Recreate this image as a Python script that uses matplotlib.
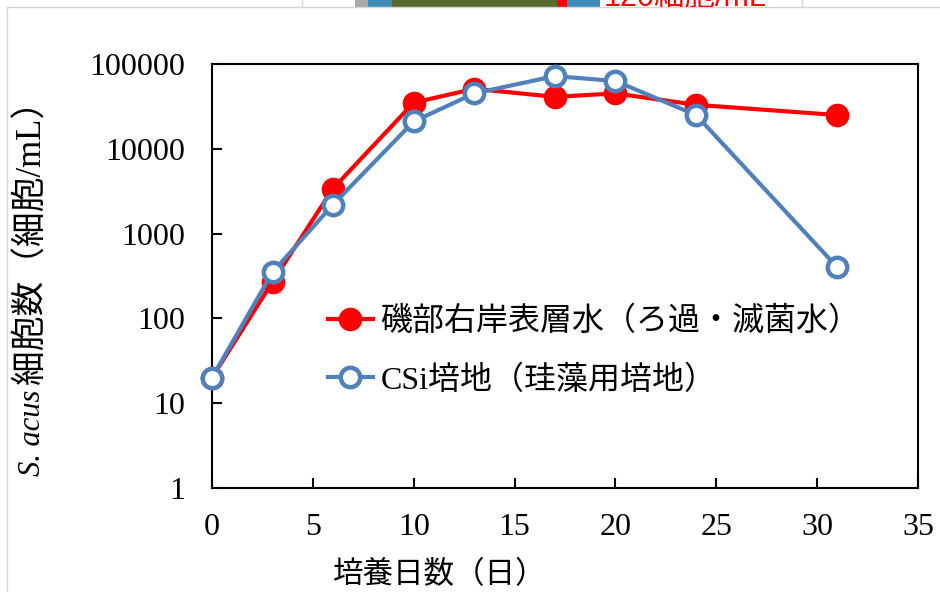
import matplotlib
matplotlib.use("Agg")
import matplotlib.pyplot as plt
from matplotlib.font_manager import FontProperties
from matplotlib.lines import Line2D
from matplotlib.patches import Rectangle
from matplotlib.ticker import NullLocator
from matplotlib.transforms import Bbox, TransformedBbox

plt.rcParams["font.family"] = ["Liberation Serif", "Noto Sans CJK JP"]

# culture day and cell counts (cells/mL)
days = [0, 3, 6, 10, 13, 17, 20, 24, 31]
river_water = [20, 270, 3400, 35000, 51000, 41000, 45000, 33000, 25000]
csi_medium = [20, 350, 2200, 21000, 45000, 72000, 63000, 25000, 400]

river_label = "磯部右岸表層水（ろ過・滅菌水）"
csi_label = "CSi培地（珪藻用培地）"

x_ticks = [0, 5, 10, 15, 20, 25, 30, 35]
y_ticks = [1, 10, 100, 1000, 10000, 100000]
y_tick_labels = ["1", "10", "100", "1000", "10000", "100000"]

W, H = 940, 592


def fx(px):
    return px / W


def fy(py):
    return 1 - py / H


fig = plt.figure(figsize=(W / 100, H / 100), dpi=100)

# page frame and the strip of the photo above the chart
frame = "#d4d4d4"
fig.add_artist(Line2D([fx(7), fx(7)], [fy(7), 0], color=frame, lw=1))
fig.add_artist(Line2D([fx(7), 1], [fy(7), fy(7)], color=frame, lw=1))
for px in (302, 802):
    fig.add_artist(Line2D([fx(px), fx(px)], [fy(7), 1], color=frame, lw=1))
for x0, x1, c in [(355, 368, "#a9a9a9"), (368, 392, "#3f8ab4"),
                  (392, 557, "#566b2c"), (557, 567, "#ff0000"),
                  (567, 600, "#3f8ab4")]:
    fig.add_artist(Rectangle((fx(x0), fy(7)), fx(x1 - x0), 7 / H,
                             color=c, lw=0))
photo_txt = fig.text(fx(604), fy(6), "120細胞/mL", color="#ff0000",
                     fontsize=22, family=["Liberation Sans", "Noto Sans CJK JP"],
                     va="baseline")
photo_txt.set_clip_box(TransformedBbox(Bbox([[fx(600), fy(7)], [fx(800), 1]]),
                                       fig.transFigure))
photo_txt.set_clip_on(True)

ax = fig.add_axes([fx(212), fy(488), fx(918 - 212), (488 - 64) / H])

ax.plot(days, river_water, color="#ff0000", lw=3, marker="o", ms=16,
        label=river_label, zorder=3, clip_on=False)
ax.plot(days, csi_medium, color="#4f81bd", lw=3, marker="o", ms=14,
        mfc="white", mec="#4f81bd", mew=3.2, label=csi_label, zorder=4,
        clip_on=False)

ax.set_yscale("log")
ax.set_xlim(0, 35)
ax.set_ylim(1, 100000)
ax.set_xticks(x_ticks)
ax.set_yticks(y_ticks, labels=y_tick_labels)
ax.yaxis.set_minor_locator(NullLocator())

for s in ax.spines.values():
    s.set_linewidth(1.5)
    s.set_color("black")
ax.tick_params(direction="in", length=7, width=1.5, labelsize=23)
ax.tick_params(axis="y", pad=19)
ax.tick_params(axis="x", pad=18)

ax.legend(loc="center left", bbox_to_anchor=(0.164, 0.323), frameon=False,
          prop=FontProperties(family=["Liberation Serif", "Noto Sans CJK JP"],
                              size=23),
          handlelength=1.4, handletextpad=0.25, labelspacing=0.88,
          borderpad=0, borderaxespad=0)

fig.text(fx(440), fy(576), "培養日数（日）", ha="center", va="center",
         fontsize=22)

# y label: italic species name followed by the unit text
species = fig.text(fx(33), fy(476), "S. acus", rotation=90, style="italic",
                   fontsize=22, ha="center", va="bottom")
fig.canvas.draw()
bb = species.get_window_extent()
fig.text(fx(32), (bb.y1 + 6) / H, "細胞数（細胞/mL）", rotation=90,
         fontsize=25, ha="center", va="bottom")

fig.savefig("out.png", dpi=100)
